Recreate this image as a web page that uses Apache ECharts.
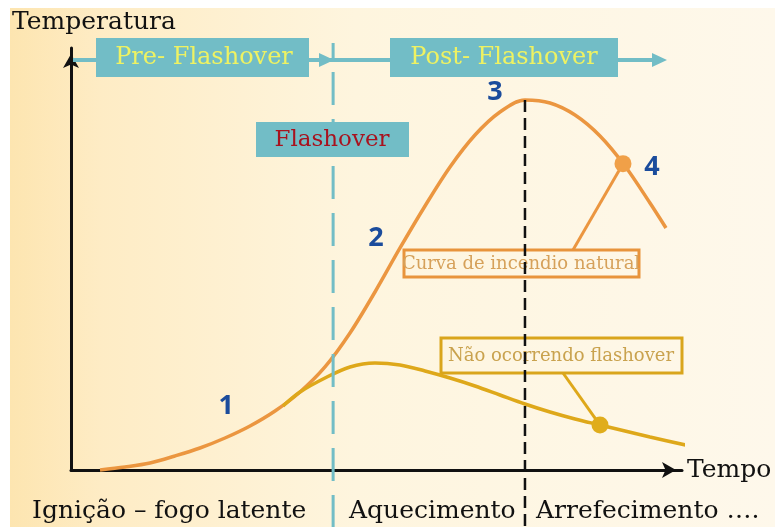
<!DOCTYPE html>
<html>
<head>
<meta charset="utf-8">
<script src="https://cdn.jsdelivr.net/npm/echarts@6/dist/echarts.min.js"></script>
<style>
  html, body { margin: 0; padding: 0; background: #fff; }
  #main { width: 775px; height: 527px; }
</style>
</head>
<body>
<div id="main"></div>
<script>
// time and temperature in relative units (0 - 100)
var naturalFireTime = [4.75, 8.84, 12.93, 17.02, 21.11, 25.2, 29.3, 33.39, 37.48, 41.57, 45.66, 49.75, 53.85, 57.94, 62.03, 66.12, 70.21, 74.3, 78.4, 82.49, 86.58, 90.67, 94.76, 97.38];
var naturalFireTemp = [0, 0.71, 1.66, 3.32, 5.21, 7.58, 10.43, 13.98, 18.48, 24.41, 32.46, 42.18, 52.61, 62.56, 71.8, 79.38, 84.83, 87.68, 86.97, 84.12, 79.15, 72.04, 63.27, 57.35];
var noFlashoverTime = [34.7, 37.48, 41.57, 45.66, 49.75, 53.85, 57.94, 62.03, 66.12, 70.21, 74.3, 78.4, 82.49, 86.58, 90.67, 94.76, 101.31];
var noFlashoverTemp = [15.17, 18.48, 21.8, 24.41, 25.36, 24.88, 23.46, 21.8, 19.91, 17.77, 15.64, 13.74, 12.09, 10.66, 9.24, 7.82, 5.69];

var flashoverTime = 42.9;
var peakTime = 74.3;
var peakTemp = 87.68;
var naturalDot = [90.34, 72.6];
var noFlashoverDot = [86.58, 10.66];

var stageNames = ['1', '2', '3', '4'];
var stageTime = [25.4, 49.9, 69.4, 95.1];
var stageTemp = [15.2, 55.0, 89.6, 71.8];

var phaseLabels = ['Ignição – fogo latente', 'Aquecimento', 'Arrefecimento ….'];

function pairs(xs, ys) {
  return xs.map(function (x, i) { return [x, ys[i]]; });
}

var serif = '"DejaVu Serif", "Liberation Serif", serif';

var option = {
  animation: false,
  backgroundColor: '#fff',
  grid: { left: 71, right: 93, top: 48, bottom: 57 },
  xAxis: {
    type: 'value',
    min: 0,
    max: 100,
    name: 'Tempo',
    nameLocation: 'end',
    nameGap: 5,
    nameTextStyle: { color: '#111', fontFamily: serif, fontSize: 25 },
    axisLine: {
      lineStyle: { color: '#111', width: 3 },
      symbol: ['none', 'arrow'],
      symbolSize: [12, 14],
      symbolOffset: [0, -6]
    },
    axisTick: { show: false },
    axisLabel: { show: false },
    splitLine: { show: false }
  },
  yAxis: {
    type: 'value',
    min: 0,
    max: 100,
    axisLine: {
      show: true,
      lineStyle: { color: '#111', width: 3 },
      symbol: ['none', 'arrow'],
      symbolSize: [12, 14],
      symbolOffset: [0, -6]
    },
    axisTick: { show: false },
    axisLabel: { show: false },
    splitLine: { show: false }
  },
  series: [
    {
      name: 'Curva de incendio natural',
      type: 'line',
      data: pairs(naturalFireTime, naturalFireTemp),
      smooth: 0.33,
      showSymbol: false,
      clip: false,
      lineStyle: { color: '#eb9640', width: 3.5 },
      z: 3
    },
    {
      name: 'Não ocorrendo flashover',
      type: 'line',
      data: pairs(noFlashoverTime, noFlashoverTemp),
      smooth: 0.33,
      showSymbol: false,
      clip: false,
      lineStyle: { color: '#dea81a', width: 3.5 },
      z: 4
    },
    {
      type: 'scatter',
      data: [
        { value: naturalDot, itemStyle: { color: '#f0a048', opacity: 1 } },
        { value: noFlashoverDot, itemStyle: { color: '#e0ad1c', opacity: 1 } }
      ],
      symbolSize: 17,
      z: 6
    },
    {
      type: 'scatter',
      data: stageNames.map(function (n, i) { return { name: n, value: [stageTime[i], stageTemp[i]] }; }),
      symbolSize: 1,
      itemStyle: { color: 'rgba(0,0,0,0)', opacity: 1 },
      label: {
        show: true,
        position: 'inside',
        formatter: '{b}',
        color: '#1b4c9c',
        fontFamily: '"Noto Sans", sans-serif',
        fontWeight: 'bold',
        fontSize: 27
      },
      z: 6
    }
  ]
};

var chart = echarts.init(document.getElementById('main'));
chart.setOption(option);

function px(t, v) { return chart.convertToPixel({ gridIndex: 0 }, [t, v]); }
var fx = px(flashoverTime, 0)[0];
var pk = px(peakTime, peakTemp);
var nd = px(naturalDot[0], naturalDot[1]);
var yd = px(noFlashoverDot[0], noFlashoverDot[1]);

var teal = '#72bdc6';

chart.setOption({
  graphic: { elements: [
    // background
    { type: 'rect', z: -100, silent: true,
      shape: { x: 10, y: 8, width: 765, height: 519 },
      style: { fill: { type: 'linear', x: 0, y: 0, x2: 1, y2: 0, colorStops: [
        { offset: 0, color: '#fde5b0' }, { offset: 0.12, color: '#feecc5' },
        { offset: 0.45, color: '#fef5de' }, { offset: 1, color: '#fef8eb' }] } } },
    { type: 'text', style: { text: 'Temperatura', x: 12, y: 22, fill: '#111', font: '25px ' + serif, textVerticalAlign: 'middle' } },

    // flashover divider and peak divider
    { type: 'line', z: 5, shape: { x1: fx, y1: 43, x2: fx, y2: 527 },
      style: { stroke: teal, lineWidth: 3, lineDash: [33, 14], lineDashOffset: 18 } },
    { type: 'line', z: 5, shape: { x1: pk[0], y1: pk[1], x2: pk[0], y2: 527 },
      style: { stroke: '#111', lineWidth: 2.5, lineDash: [12, 6] } },

    // phase arrows
    { type: 'line', z: 6, shape: { x1: 73, y1: 60, x2: 96, y2: 60 }, style: { stroke: teal, lineWidth: 4 } },
    { type: 'line', z: 6, shape: { x1: 309, y1: 60, x2: 390, y2: 60 }, style: { stroke: teal, lineWidth: 4 } },
    { type: 'polygon', z: 6, shape: { points: [[319, 53], [334, 60], [319, 67]] }, style: { fill: teal } },
    { type: 'line', z: 6, shape: { x1: 618, y1: 60, x2: 656, y2: 60 }, style: { stroke: teal, lineWidth: 4 } },
    { type: 'polygon', z: 6, shape: { points: [[652, 53], [667, 60], [652, 67]] }, style: { fill: teal } },

    { type: 'rect', z: 7, shape: { x: 96, y: 38, width: 213, height: 39 }, style: { fill: teal } },
    { type: 'text', z: 8, style: { text: 'Pre- Flashover', x: 204, y: 58, fill: '#eef262', font: '24px ' + serif, textAlign: 'center', textVerticalAlign: 'middle' } },
    { type: 'rect', z: 7, shape: { x: 390, y: 38, width: 228, height: 39 }, style: { fill: teal } },
    { type: 'text', z: 8, style: { text: 'Post- Flashover', x: 504, y: 58, fill: '#eef262', font: '24px ' + serif, textAlign: 'center', textVerticalAlign: 'middle' } },
    { type: 'rect', z: 7, shape: { x: 256, y: 122, width: 153, height: 35 }, style: { fill: teal } },
    { type: 'text', z: 8, style: { text: 'Flashover', x: 332, y: 140, fill: '#a8121e', font: '23px ' + serif, textAlign: 'center', textVerticalAlign: 'middle' } },

    // curve callouts
    { type: 'line', z: 4, shape: { x1: 573, y1: 250, x2: nd[0], y2: nd[1] }, style: { stroke: '#eb9640', lineWidth: 3 } },
    { type: 'rect', z: 4, shape: { x: 404, y: 250, width: 235, height: 27 }, style: { fill: 'none', stroke: '#e8943c', lineWidth: 3 } },
    { type: 'text', z: 4, style: { text: 'Curva de incendio natural', x: 521, y: 264, fill: '#d6a15a', font: '18px ' + serif, textAlign: 'center', textVerticalAlign: 'middle' } },
    { type: 'line', z: 4, shape: { x1: 563, y1: 373, x2: yd[0], y2: yd[1] }, style: { stroke: '#dea81a', lineWidth: 3 } },
    { type: 'rect', z: 4, shape: { x: 441, y: 338, width: 241, height: 35 }, style: { fill: 'none', stroke: '#d9a51c', lineWidth: 3 } },
    { type: 'text', z: 4, style: { text: 'Não ocorrendo flashover', x: 561, y: 356, fill: '#c9a24e', font: '18px ' + serif, textAlign: 'center', textVerticalAlign: 'middle' } },

    // phase names under the time axis
    { type: 'text', style: { text: phaseLabels[0], x: 32, y: 511, fill: '#111', font: '25px ' + serif, textVerticalAlign: 'middle' } },
    { type: 'text', style: { text: phaseLabels[1], x: 349, y: 511, fill: '#111', font: '25px ' + serif, textVerticalAlign: 'middle' } },
    { type: 'text', style: { text: phaseLabels[2], x: 536, y: 511, fill: '#111', font: '25px ' + serif, textVerticalAlign: 'middle' } }
  ] }
});
</script>
</body>
</html>
